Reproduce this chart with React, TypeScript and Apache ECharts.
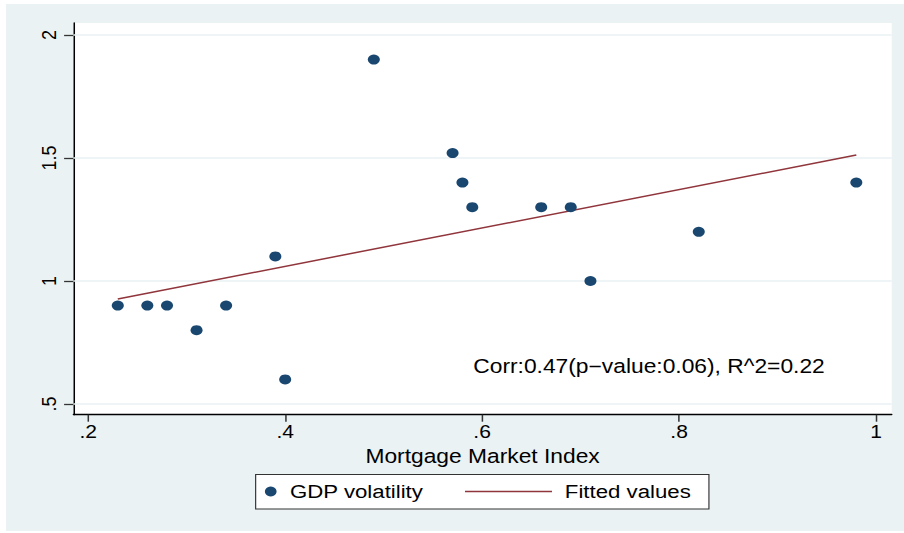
import React, { useEffect, useRef } from "react";
import * as echarts from "echarts";

// ---- data ----
const mortgageIndex = [0.23, 0.26, 0.28, 0.31, 0.34, 0.39, 0.40, 0.49, 0.57, 0.58, 0.59, 0.66, 0.69, 0.71, 0.82, 0.98];
const gdpVolatility = [0.9, 0.9, 0.9, 0.8, 0.9, 1.1, 0.6, 1.9, 1.52, 1.4, 1.3, 1.3, 1.3, 1.0, 1.2, 1.4];
const fittedX = [0.23, 0.98];
const fittedY = [0.927, 1.512];
const xTicks = [0.2, 0.4, 0.6, 0.8, 1];
const yTicks = [0.5, 1, 1.5, 2];
const seriesNames = ["GDP volatility", "Fitted values"];
const xAxisTitle = "Mortgage Market Index";
const annotation = "Corr:0.47(p\u2212value:0.06), R^2=0.22";

const FONT = '"Liberation Sans", Arial, Helvetica, sans-serif';
const OUT_W = 904;
const IN_W = 773;
const H = 533;
const SX = OUT_W / IN_W;

const fmt = (v: number) => String(v).replace(/^0\./, ".");

export default function App() {
  const ref = useRef<HTMLDivElement>(null);
  useEffect(() => {
    if (!ref.current) return;
    const chart = echarts.init(ref.current, null, { renderer: "svg" });
    const navy = "#1a476f";
    const maroon = "#90353b";
    const bg = "#eaf2f3";
    chart.setOption({
      animation: false,
      grid: {
        left: 62.8,
        right: 10.5,
        top: 23,
        bottom: 118.3,
        show: true,
        backgroundColor: "#ffffff",
        borderWidth: 0,
      },
      xAxis: {
        type: "value",
        min: 0.18497,
        max: 1.01595,
        axisLine: { show: true, onZero: false, lineStyle: { color: "#000", width: 1.3 } },
        axisTick: { show: true, length: 7, customValues: xTicks, lineStyle: { color: "#333", width: 1.3 } },
        axisLabel: { customValues: xTicks, formatter: fmt, margin: 8, fontSize: 18, color: "#000", fontFamily: FONT },
        splitLine: { show: false },
        name: xAxisTitle,
        nameLocation: "middle",
        nameGap: 21,
        nameTextStyle: { fontSize: 19.5, color: "#000", fontFamily: FONT },
      },
      yAxis: {
        type: "value",
        min: 0.4565,
        max: 2.0488,
        axisLine: { show: true, onZero: false, lineStyle: { color: "#000", width: 1.3 } },
        axisTick: { show: true, length: 8, customValues: yTicks, lineStyle: { color: "#333", width: 1.3 } },
        axisLabel: { customValues: yTicks, formatter: fmt, rotate: 90, margin: 12, fontSize: 18, color: "#000", fontFamily: FONT },
        splitLine: { show: false },
      },
      graphic: [
        {
          type: "rect",
          z: -10,
          silent: true,
          shape: { x: 5.1, y: 4, width: IN_W - 5.1, height: 527 },
          style: { fill: bg },
        },
        {
          type: "text",
          z: 100,
          x: 404.7,
          y: 366.5,
          style: { text: annotation, fontSize: 19.5, fontFamily: FONT, fill: "#000", verticalAlign: "middle", align: "left" },
        },
        {
          type: "group",
          z: 100,
          children: [
            {
              type: "rect",
              shape: { x: 218.6, y: 474.5, width: 387.6, height: 34.5 },
              style: { fill: "#fff", stroke: "#333", lineWidth: 1 },
            },
            {
              type: "circle",
              shape: { cx: 231.5, cy: 491.5, r: 5 },
              style: { fill: navy },
            },
            {
              type: "text",
              x: 248,
              y: 491.5,
              style: { text: seriesNames[0], fontSize: 19, fontFamily: FONT, fill: "#000", verticalAlign: "middle", align: "left" },
            },
            {
              type: "line",
              shape: { x1: 397.6, y1: 491.5, x2: 472, y2: 491.5 },
              style: { stroke: maroon, lineWidth: 1.5 },
            },
            {
              type: "text",
              x: 483,
              y: 491.5,
              style: { text: seriesNames[1], fontSize: 19, fontFamily: FONT, fill: "#000", verticalAlign: "middle", align: "left" },
            },
          ],
        },
      ],
      series: [
        {
          type: "line",
          name: "grid",
          data: [],
          z: 1,
          silent: true,
          markLine: {
            silent: true,
            z: 1,
            symbol: ["none", "none"],
            label: { show: false },
            lineStyle: { color: bg, width: 1.5, type: "solid" },
            data: yTicks.map((v) => ({ yAxis: v })),
          },
        },
        {
          type: "line",
          name: seriesNames[1],
          data: fittedX.map((x, i) => [x, fittedY[i]]),
          showSymbol: false,
          z: 3,
          lineStyle: { color: maroon, width: 1.5 },
        },
        {
          type: "scatter",
          name: seriesNames[0],
          data: mortgageIndex.map((x, i) => [x, gdpVolatility[i]]),
          symbol: "circle",
          symbolSize: [10.3, 10],
          z: 6,
          itemStyle: { color: navy, opacity: 1 },
        },
      ],
    });
    return () => chart.dispose();
  }, []);
  return (
    <div
      ref={ref}
      style={{
        position: "absolute",
        left: 0,
        top: 0,
        width: IN_W,
        height: H,
        transform: `scaleX(${SX})`,
        transformOrigin: "0 0",
      }}
    />
  );
}
